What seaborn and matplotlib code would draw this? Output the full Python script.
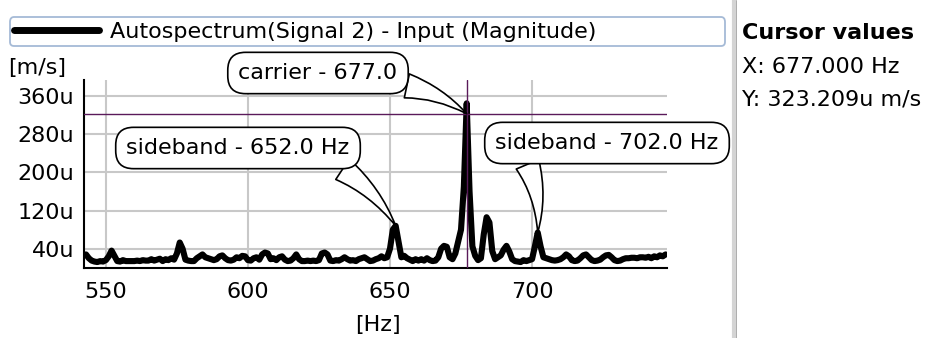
import seaborn as sns
import matplotlib.pyplot as plt
from matplotlib.lines import Line2D

# ---- data ----
freq_start = 543
magnitude_u = [
    28, 20, 15, 13, 12, 14, 13, 16, 24, 36,   # 543-552
    25, 14, 13, 16, 14, 14, 14, 14, 15, 14,   # 553-562
    16, 15, 15, 18, 15, 17, 19, 14, 18, 16,   # 563-572
    20, 17, 30, 53, 40, 17, 15, 14, 14, 20,   # 573-582
    24, 28, 22, 20, 18, 16, 18, 24, 26, 20,   # 583-592
    16, 15, 17, 22, 20, 25, 24, 16, 15, 20,   # 593-602
    22, 17, 28, 32, 30, 18, 20, 16, 22, 24,   # 603-612
    17, 14, 15, 20, 28, 18, 14, 14, 15, 14,   # 613-622
    15, 14, 16, 30, 32, 28, 15, 14, 16, 15,   # 623-632
    18, 22, 18, 15, 16, 14, 18, 20, 22, 18,   # 633-642
    14, 15, 18, 20, 24, 20, 22, 40, 80, 88,   # 643-652
    55, 22, 25, 20, 17, 14, 18, 15, 18, 15,   # 653-662
    20, 16, 14, 15, 22, 40, 46, 44, 22, 18,   # 663-672
    30, 55, 80, 170, 345, 160, 45, 25, 16, 20,  # 673-682
    70, 106, 95, 35, 18, 22, 26, 38, 46, 34,  # 683-692
    18, 14, 13, 12, 16, 14, 16, 18, 45, 74,   # 693-702
    45, 22, 20, 18, 16, 15, 16, 18, 22, 28,   # 703-712
    24, 16, 14, 15, 20, 26, 28, 22, 16, 14,   # 713-722
    15, 17, 22, 26, 27, 22, 16, 14, 15, 18,   # 723-732
    20, 20, 21, 21, 20, 22, 22, 21, 23, 20,   # 733-742
    24, 22, 26, 24, 28,                       # 743-747
]
freq_hz = list(range(freq_start, freq_start + len(magnitude_u)))

y_ticks = [40, 120, 200, 280, 360]
y_tick_labels = ["40u", "120u", "200u", "280u", "360u"]
x_ticks = [550, 600, 650, 700]

cursor_x = 677.0
cursor_y = 323.209

callouts = [
    ("carrier - 677.0", 677, 323.2),
    ("sideband - 652.0 Hz", 652, 88),
    ("sideband - 702.0 Hz", 702, 74),
]

series_name = "Autospectrum(Signal 2) - Input (Magnitude)"

# ---- plot ----
sns.set_style("white")
plt.rcParams['font.family'] = ['DejaVu Sans']
plt.rcParams['text.color'] = 'black'
plt.rcParams['xtick.color'] = 'black'
plt.rcParams['ytick.color'] = 'black'
fs = 16

W, H = 932, 338
fig = plt.figure(figsize=(W / 100, H / 100), dpi=100)
ax = fig.add_axes([84 / W, 1 - 268 / H, (667 - 84) / W, (268 - 80) / H])

sns.lineplot(x=freq_hz, y=magnitude_u, color="black", linewidth=4.4,
             label=series_name, ax=ax, zorder=3)
ax.get_legend().remove()

ax.set_xlim(542.3, 747.5)
ax.set_ylim(-0.5, 394)
ax.set_xticks(x_ticks)
ax.set_yticks(y_ticks)
ax.set_yticklabels(y_tick_labels)
ax.grid(True, color="#c8c8c8", lw=1.5)
for s in ["top", "right"]:
    ax.spines[s].set_visible(False)
for s in ["left", "bottom"]:
    ax.spines[s].set_color("black")
    ax.spines[s].set_linewidth(1.5)
ax.tick_params(axis="both", direction="out", length=6, width=1.3, colors="black",
               labelsize=fs, pad=1)
ax.tick_params(axis="x", length=7, pad=3)
ax.set_xlabel("")
ax.set_ylabel("")

# cursor
ax.axvline(cursor_x, color="#5a1a5a", lw=1, zorder=4)
ax.axhline(cursor_y, color="#5a1a5a", lw=1, zorder=4)

# callouts (positions in figure pixels)
text_pos = [(318, 73), (238, 148), (607, 143)]
rel = [(0.93, 0.0), (0.88, 0.0), (0.12, 0.0)]
for (txt, xv, yv), (px, py), rp in zip(callouts, text_pos, rel):
    ax.annotate(txt, xy=(xv, yv), xycoords="data",
                xytext=(px / W, 1 - py / H), textcoords="figure fraction",
                ha="center", va="center", fontsize=fs, zorder=6,
                bbox=dict(boxstyle="round,pad=0.48,rounding_size=0.8",
                          fc="white", ec="black", lw=1.2),
                arrowprops=dict(arrowstyle="wedge,tail_width=1.1,shrink_factor=0.5",
                                fc="white", ec="black", lw=1.2, relpos=rp,
                                shrinkA=0, shrinkB=0,
                                connectionstyle="arc3,rad=-0.15"))

# legend box across the top
leg = fig.legend(handles=ax.get_lines()[:1], labels=[series_name],
                 loc="lower left", mode="expand",
                 bbox_to_anchor=(10 / W, 1 - 46 / H, 715 / W, 35 / H),
                 fontsize=fs, handlelength=3.8, handletextpad=0.5,
                 borderpad=0.2, borderaxespad=0, fancybox=True, frameon=True)
leg.get_frame().set_edgecolor("#8fa9cc")
leg.get_frame().set_linewidth(1.3)
leg.get_lines()[0].set_linewidth(5)

# unit labels
fig.text(8 / W, 1 - 68 / H, "[m/s]", fontsize=fs, ha="left", va="center")
fig.text(378 / W, 1 - 325 / H, "[Hz]", fontsize=fs, ha="center", va="center")

# side panel
fig.add_artist(Line2D([734 / W, 734 / W], [0, 1], color="#d4d4d4", lw=3))
fig.add_artist(Line2D([735.5 / W, 735.5 / W], [0, 1], color="#a0a0a0", lw=0.6))
fig.text(742 / W, 1 - 33 / H, "Cursor values", fontsize=fs, fontweight="bold",
         ha="left", va="center")
fig.text(742 / W, 1 - 67 / H, "X: %.3f Hz" % cursor_x, fontsize=fs,
         ha="left", va="center")
fig.text(742 / W, 1 - 100 / H, "Y: %.3fu m/s" % cursor_y, fontsize=fs,
         ha="left", va="center")

plt.savefig("out.png", dpi=100)
